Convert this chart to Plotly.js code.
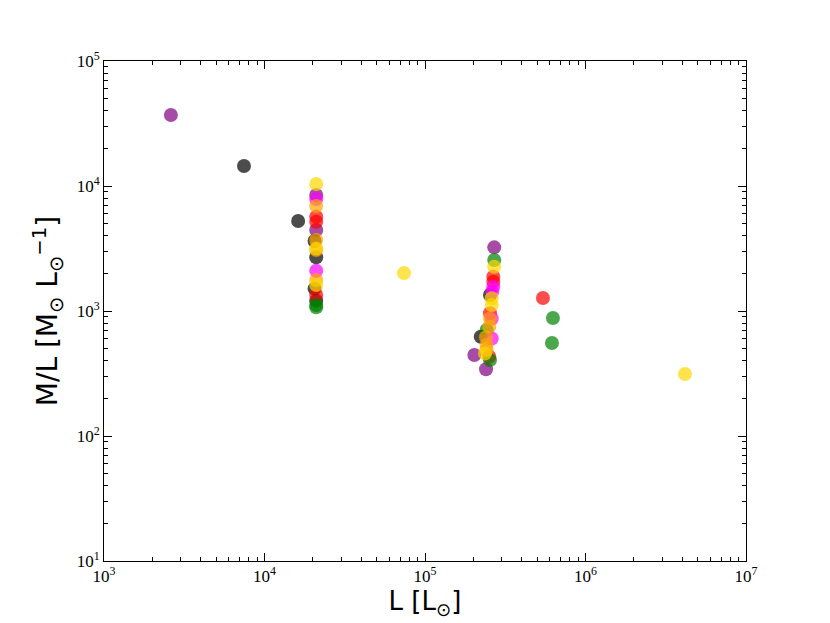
<!DOCTYPE html>
<html>
<head>
<meta charset="utf-8">
<script src="https://cdn.plot.ly/plotly-3.0.1.min.js"></script>
<style>
body { margin: 0; background: #fff; }
#plot { width: 830px; height: 623px; }
</style>
</head>
<body>
<div id="plot"></div>
<script>
// values, one pair of arrays per colour
var purpleL  = [2610, 270000, 21000, 21000, 203000, 240000];
var purpleML = [37000, 3230, 8470, 4450, 445, 342];

var blackL  = [7450, 16200, 20500, 21000, 20500, 21000, 254000, 222500];
var blackML = [14450, 5250, 3630, 2690, 1510, 1210, 1343, 623];

var goldL  = [74000, 4170000, 21000, 21000, 21000, 270000, 260500, 260500, 236500];
var goldML = [2010, 313, 10380, 3160, 1615, 2260, 1265, 1117, 457];

var redL  = [543000, 21000, 21000, 21000, 266500, 266500, 254000, 251500];
var redML = [1270, 5680, 5180, 1343, 1880, 1715, 960, 431];

var greenL  = [627000, 618000, 21000, 21000, 270000, 242000, 254000];
var greenML = [880, 555, 1117, 1070, 2560, 705, 405];

var magentaL  = [21000, 21000, 266500, 262500, 260500, 260500];
var magentaML = [7870, 2100, 1565, 1425, 870, 602];

var orangeL  = [21000, 21000, 21000, 21000, 254000, 251500, 240000, 242000, 242000];
var orangeML = [6920, 3700, 3080, 1770, 870, 748, 617, 535, 488];

// tick labels
var xTickVals = [1e3, 1e4, 1e5, 1e6, 1e7];
var xTickText = ["10<sup>3</sup>", "10<sup>4</sup>", "10<sup>5</sup>", "10<sup>6</sup>", "10<sup>7</sup>"];
var yTickVals = [1e1, 1e2, 1e3, 1e4, 1e5];
var yTickText = ["10<sup>1</sup>", "10<sup>2</sup>", "10<sup>3</sup>", "10<sup>4</sup>", "10<sup>5</sup>"];

var groups = [
	{x: purpleL,  y: purpleML,  c: "purple"},
	{x: blackL,   y: blackML,   c: "black"},
	{x: redL,     y: redML,     c: "red"},
	{x: greenL,   y: greenML,   c: "green"},
	{x: magentaL, y: magentaML, c: "magenta"},
	{x: orangeL,  y: orangeML,  c: "orange"},
	{x: goldL,    y: goldML,    c: "gold"}
];

var traces = [];
for (var i = 0; i < groups.length; i++) {
	traces.push({
		x: groups[i].x,
		y: groups[i].y,
		mode: "markers",
		type: "scatter",
		marker: { size: 14, color: groups[i].c, opacity: 0.7, line: { width: 0 } },
		showlegend: false,
		hoverinfo: "none"
	});
}

var tickFont = { family: "Liberation Serif, DejaVu Serif, serif", size: 17, color: "#000" };

function axis(range, vals, text, title) {
	return {
		type: "log",
		range: range,
		tickmode: "array",
		tickvals: vals,
		ticktext: text,
		showgrid: false,
		zeroline: false,
		showline: true,
		linecolor: "#000",
		linewidth: 1,
		mirror: "allticks",
		ticks: "inside",
		ticklen: 8,
		tickwidth: 1,
		tickcolor: "#000",
		tickfont: tickFont,
		minor: { ticks: "inside", ticklen: 4, tickwidth: 1, tickcolor: "#000", dtick: "D1", showgrid: false },
		title: { text: title, font: { family: "DejaVu Sans, sans-serif", size: 26, color: "#000" } }
	};
}

var layout = {
	width: 830,
	height: 623,
	paper_bgcolor: "#fff",
	plot_bgcolor: "#fff",
	margin: { l: 104, r: 84, t: 61, b: 62 },
	xaxis: axis([3, 7], xTickVals, xTickText, "L [L<sub>⊙</sub>]"),
	yaxis: axis([1, 5], yTickVals, yTickText, "M/L [M<sub>⊙</sub> L<sub>⊙</sub><sup>−1</sup>]")
};
layout.xaxis.title.standoff = 6;
layout.yaxis.title.standoff = 10;
layout.yaxis.title.font.size = 28;

Plotly.newPlot("plot", traces, layout, { staticPlot: true });
</script>
</body>
</html>
